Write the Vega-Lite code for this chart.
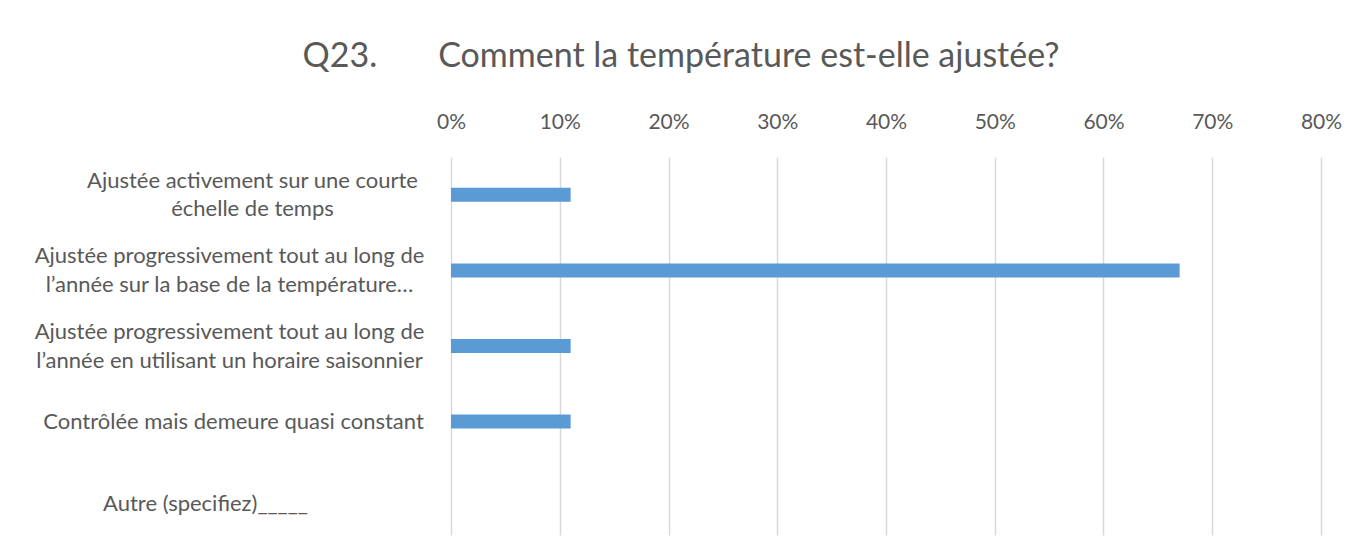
{
  "$schema": "https://vega.github.io/schema/vega-lite/v6.json",
  "autosize": {"type": "none"},
  "width": 870,
  "height": 378,
  "padding": {"left": 451, "top": 157, "right": 38, "bottom": 2},
  "background": "white",
  "title": {
    "text": "Q23.\u00a0\u00a0\u00a0\u00a0\u00a0\u00a0\u00a0Comment la température est-elle ajustée?",
    "font": "Lato",
    "fontSize": 34,
    "fontWeight": "normal",
    "color": "#595959",
    "anchor": "middle",
    "dx": -205,
    "offset": 37
  },
  "data": {
    "values": [
      {"option": "Ajustée activement sur une courte|échelle de temps", "pct": 0.11},
      {"option": "Ajustée progressivement tout au long de|l’année sur la base de la température…", "pct": 0.67},
      {"option": "Ajustée progressivement tout au long de|l’année en utilisant un horaire saisonnier", "pct": 0.11},
      {"option": "Contrôlée mais demeure quasi constant", "pct": 0.11},
      {"option": "Autre (specifiez)_____", "pct": 0}
    ]
  },
  "mark": {"type": "bar", "color": "#5b9bd5"},
  "encoding": {
    "y": {
      "field": "option",
      "type": "nominal",
      "sort": null,
      "scale": {"paddingInner": 0.815, "paddingOuter": 0.4075},
      "axis": {
        "title": null,
        "domain": false,
        "ticks": false,
        "labelExpr": "split(datum.label, '|')",
        "labelAlign": "center",
        "labelPadding": {
          "condition": [
            {"test": "indexof(datum.value, 'courte') >= 0", "value": 199},
            {"test": "indexof(datum.value, 'Autre') >= 0", "value": 246},
            {"test": "indexof(datum.value, 'Contrôlée') >= 0", "value": 218}
          ],
          "value": 222
        },
        "labelOffset": {
          "condition": [
            {"test": "indexof(datum.value, '|') >= 0", "value": -14},
            {"test": "indexof(datum.value, 'Autre') >= 0", "value": 7}
          ],
          "value": 0
        },
        "labelFont": "Lato",
        "labelFontSize": 22,
        "labelColor": "#595959",
        "labelLineHeight": 28.5,
        "labelLimit": 0
      }
    },
    "x": {
      "field": "pct",
      "type": "quantitative",
      "scale": {"domain": [0, 0.8], "nice": false},
      "axis": {
        "orient": "top",
        "title": null,
        "values": [0, 0.1, 0.2, 0.3, 0.4, 0.5, 0.6, 0.7, 0.8],
        "format": ".0%",
        "domain": false,
        "ticks": false,
        "grid": true,
        "gridColor": "#d9d9d9",
        "gridWidth": 1.5,
        "labelFlush": false,
        "labelPadding": 25,
        "labelFont": "Lato",
        "labelFontSize": 21,
        "labelColor": "#595959"
      }
    }
  },
  "config": {"view": {"stroke": null}}
}
